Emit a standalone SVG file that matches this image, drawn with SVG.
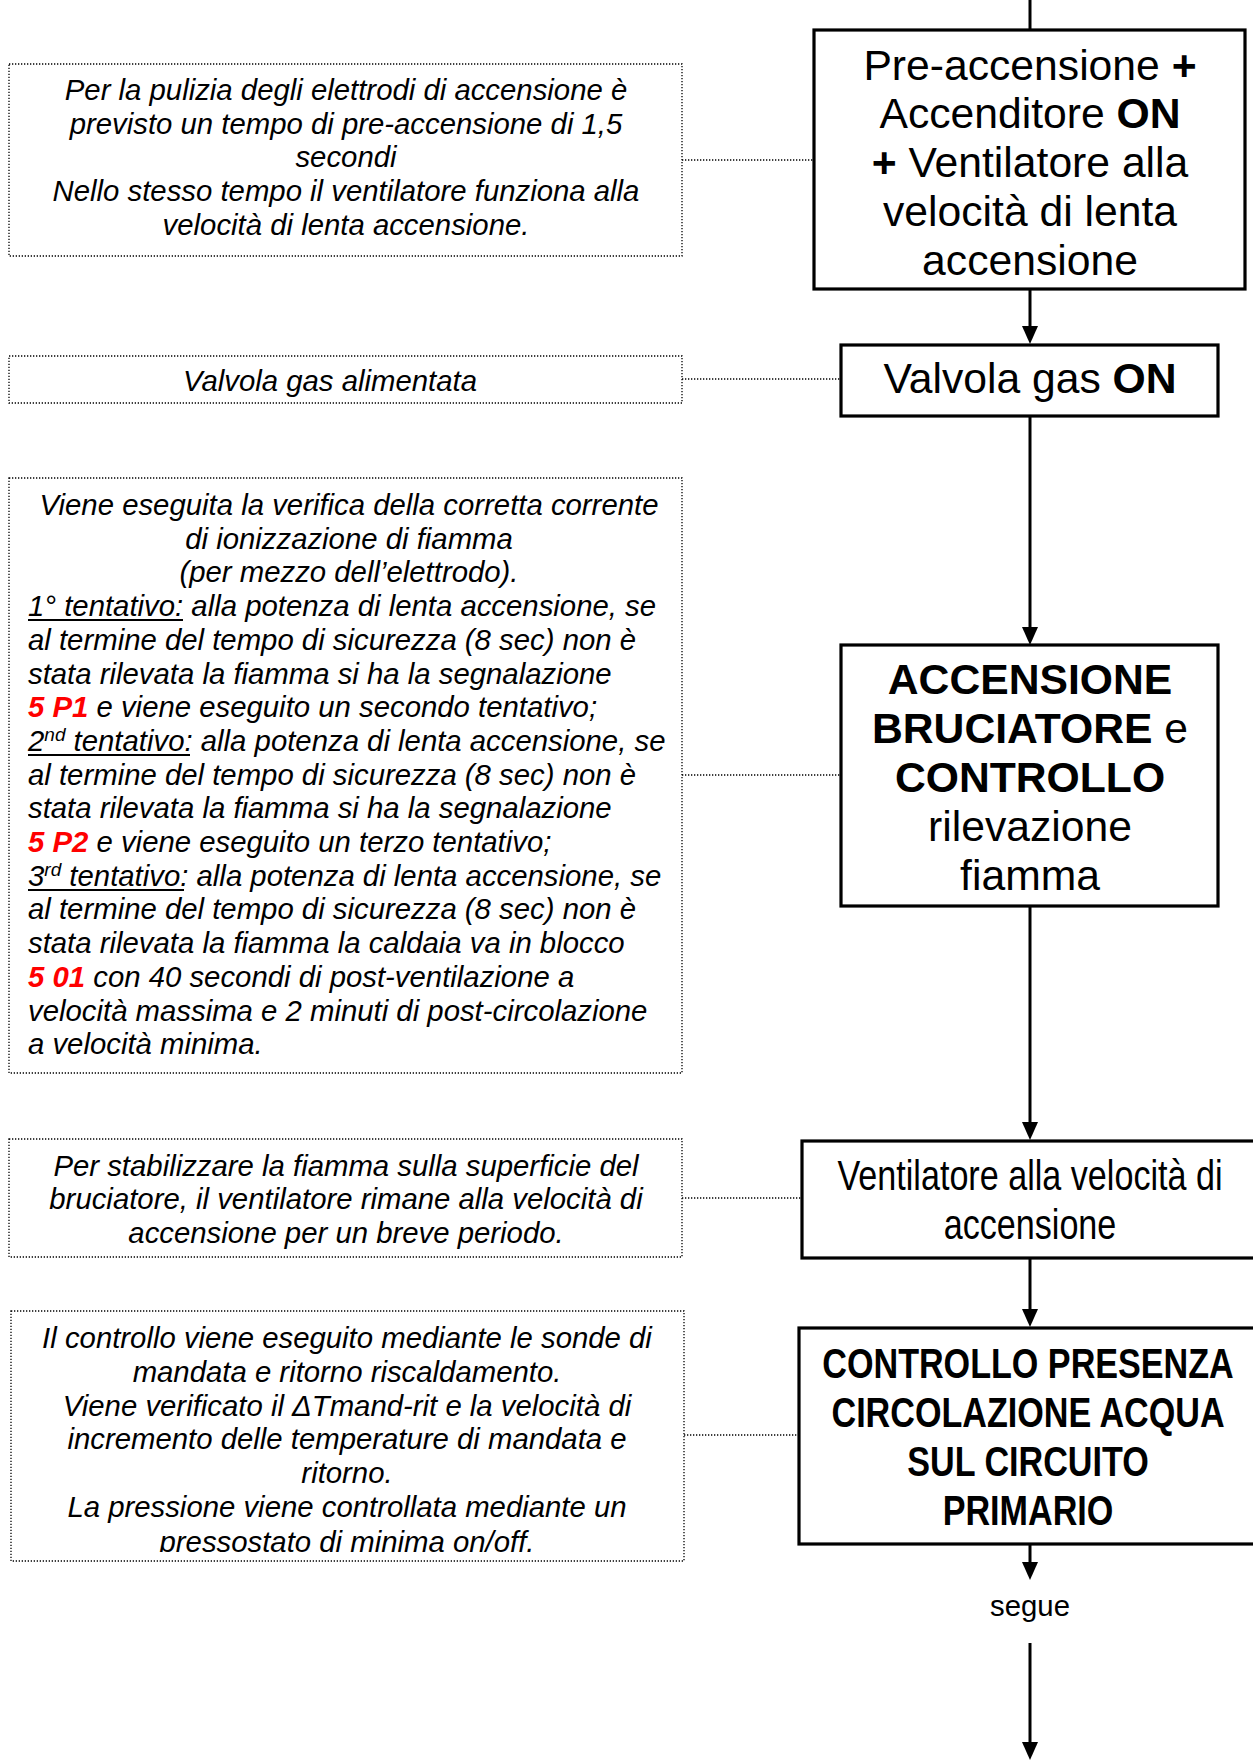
<svg xmlns="http://www.w3.org/2000/svg" width="1253" height="1760" viewBox="0 0 1253 1760">
  <style>
    .step { fill: #fff; stroke: #000; stroke-width: 3.2; }
    .note { fill: #fff; stroke: #000; stroke-width: 1.3; stroke-dasharray: 1.3 1.7; }
    .link { fill: none; stroke: #000; stroke-width: 3; }
    .dot { fill: none; stroke: #000; stroke-width: 1.3; stroke-dasharray: 1.3 1.7; }
    .big { font-family: "Liberation Sans", Arial, sans-serif; font-size: 42.67px; fill: #000; text-anchor: middle; }
    .b { font-weight: bold; }
    .txt { font-family: "Liberation Sans", Arial, sans-serif; font-size: 29.33px; font-style: italic; fill: #000; }
    .mid { text-anchor: middle; }
    .red { fill: #ff0000; font-weight: bold; }
    .sup { font-size: 19px; }
    .ul { stroke: #000; stroke-width: 2; }
    .lbl { font-family: "Liberation Sans", Arial, sans-serif; font-size: 29.33px; fill: #000; text-anchor: middle; }
  </style>
  <defs>
    <marker id="arrow" viewBox="0 0 18 16" refX="12" refY="8" markerWidth="18" markerHeight="16" markerUnits="userSpaceOnUse" orient="auto">
      <path d="M0,0 L18,8 L0,16 z" fill="#000"/>
    </marker>
    <clipPath id="clip-note5">
      <rect x="11" y="1311" width="673" height="241"/>
    </clipPath>
  </defs>
  <rect width="1253" height="1760" fill="#fff"/>

  <!-- connectors: solid flow arrows and dotted note leaders -->
  <g id="connectors">
    <line class="link" x1="1030" y1="0" x2="1030" y2="30"/>
    <line class="link" x1="1030" y1="289" x2="1030" y2="338" marker-end="url(#arrow)"/>
    <line class="link" x1="1030" y1="416" x2="1030" y2="639" marker-end="url(#arrow)"/>
    <line class="link" x1="1030" y1="906" x2="1030" y2="1134" marker-end="url(#arrow)"/>
    <line class="link" x1="1030" y1="1258" x2="1030" y2="1321" marker-end="url(#arrow)"/>
    <line class="link" x1="1030" y1="1544" x2="1030" y2="1574" marker-end="url(#arrow)"/>
    <line class="link" x1="1030" y1="1643" x2="1030" y2="1754" marker-end="url(#arrow)"/>

    <line class="dot" x1="682" y1="160" x2="814" y2="160"/>
    <line class="dot" x1="682" y1="379" x2="841" y2="379"/>
    <line class="dot" x1="682" y1="775" x2="841" y2="775"/>
    <line class="dot" x1="682" y1="1198" x2="802" y2="1198"/>
    <line class="dot" x1="684" y1="1435" x2="799" y2="1435"/>
  </g>

  <!-- flow steps -->
  <g id="step-preaccensione">
    <rect class="step" x="814" y="30" width="431" height="259"/>
    <text class="big" x="1030" y="80">Pre-accensione <tspan class="b">+</tspan></text>
    <text class="big" x="1030" y="128">Accenditore <tspan class="b">ON</tspan></text>
    <text class="big" x="1030" y="177"><tspan class="b">+</tspan> Ventilatore alla</text>
    <text class="big" x="1030" y="226">velocità di lenta</text>
    <text class="big" x="1030" y="275">accensione</text>
  </g>

  <g id="step-valvola">
    <rect class="step" x="841" y="345" width="377" height="71"/>
    <text class="big" x="1030" y="393">Valvola gas <tspan class="b">ON</tspan></text>
  </g>

  <g id="step-accensione">
    <rect class="step" x="841" y="645" width="377" height="261"/>
    <text class="big b" x="1030" y="694">ACCENSIONE</text>
    <text class="big" x="1030" y="743"><tspan class="b">BRUCIATORE</tspan> e</text>
    <text class="big b" x="1030" y="792">CONTROLLO</text>
    <text class="big" x="1030" y="841">rilevazione</text>
    <text class="big" x="1030" y="890">fiamma</text>
  </g>

  <g id="step-ventilatore">
    <rect class="step" x="802" y="1141" width="500" height="117"/>
    <text class="big" transform="translate(1030,1190) scale(0.8,1)">Ventilatore alla velocità di</text>
    <text class="big" transform="translate(1030,1239) scale(0.8,1)">accensione</text>
  </g>

  <g id="step-circolazione">
    <rect class="step" x="799" y="1328" width="500" height="216"/>
    <text class="big b" transform="translate(1028,1378) scale(0.8,1)">CONTROLLO PRESENZA</text>
    <text class="big b" transform="translate(1028,1427) scale(0.8,1)">CIRCOLAZIONE ACQUA</text>
    <text class="big b" transform="translate(1028,1476) scale(0.8,1)">SUL CIRCUITO</text>
    <text class="big b" transform="translate(1028,1525) scale(0.8,1)">PRIMARIO</text>
  </g>

  <g id="label-segue">
    <text class="lbl" x="1030" y="1616">segue</text>
  </g>

  <!-- explanatory notes -->
  <g id="note-preaccensione">
    <rect class="note" x="9" y="64" width="673" height="192"/>
    <text class="txt mid" x="346" y="100">Per la pulizia degli elettrodi di accensione è</text>
    <text class="txt mid" x="346" y="134">previsto un tempo di pre-accensione di 1,5</text>
    <text class="txt mid" x="346" y="167">secondi</text>
    <text class="txt mid" x="346" y="201">Nello stesso tempo il ventilatore funziona alla</text>
    <text class="txt mid" x="346" y="235">velocità di lenta accensione.</text>
  </g>

  <g id="note-valvola">
    <rect class="note" x="9" y="356" width="673" height="47"/>
    <text class="txt mid" x="330" y="391">Valvola gas alimentata</text>
  </g>

  <g id="note-accensione">
    <rect class="note" x="9" y="478" width="673" height="595"/>
    <text class="txt mid" x="349" y="515">Viene eseguita la verifica della corretta corrente</text>
    <text class="txt mid" x="349" y="549">di ionizzazione di fiamma</text>
    <text class="txt mid" x="349" y="582">(per mezzo dell’elettrodo).</text>
    <text class="txt" x="28" y="616">1° tentativo: alla potenza di lenta accensione, se</text>
    <line class="ul" x1="28" y1="620" x2="183" y2="620"/>
    <text class="txt" x="28" y="650">al termine del tempo di sicurezza (8 sec) non è</text>
    <text class="txt" x="28" y="684">stata rilevata la fiamma si ha la segnalazione</text>
    <text class="txt" x="28" y="717"><tspan class="red">5 P1</tspan> e viene eseguito un secondo tentativo;</text>
    <text class="txt" x="28" y="751">2<tspan class="sup" dy="-10">nd</tspan><tspan dy="10"> tentativo:</tspan> alla potenza di lenta accensione, se</text>
    <line class="ul" x1="28" y1="755" x2="190" y2="755"/>
    <text class="txt" x="28" y="785">al termine del tempo di sicurezza (8 sec) non è</text>
    <text class="txt" x="28" y="818">stata rilevata la fiamma si ha la segnalazione</text>
    <text class="txt" x="28" y="852"><tspan class="red">5 P2</tspan> e viene eseguito un terzo tentativo;</text>
    <text class="txt" x="28" y="886">3<tspan class="sup" dy="-10">rd</tspan><tspan dy="10"> tentativo:</tspan> alla potenza di lenta accensione, se</text>
    <line class="ul" x1="28" y1="890" x2="184" y2="890"/>
    <text class="txt" x="28" y="919">al termine del tempo di sicurezza (8 sec) non è</text>
    <text class="txt" x="28" y="953">stata rilevata la fiamma la caldaia va in blocco</text>
    <text class="txt" x="28" y="987"><tspan class="red">5 01</tspan> con 40 secondi di post-ventilazione a</text>
    <text class="txt" x="28" y="1021">velocità massima e 2 minuti di post-circolazione</text>
    <text class="txt" x="28" y="1054">a velocità minima.</text>
  </g>

  <g id="note-ventilatore">
    <rect class="note" x="9" y="1139" width="673" height="118"/>
    <text class="txt mid" x="346" y="1176">Per stabilizzare la fiamma sulla superficie del</text>
    <text class="txt mid" x="346" y="1209">bruciatore, il ventilatore rimane alla velocità di</text>
    <text class="txt mid" x="346" y="1243">accensione per un breve periodo.</text>
  </g>

  <g id="note-circolazione">
    <rect class="note" x="11" y="1311" width="673" height="250"/>
    <g clip-path="url(#clip-note5)">
      <text class="txt mid" x="347" y="1348">Il controllo viene eseguito mediante le sonde di</text>
      <text class="txt mid" x="347" y="1382">mandata e ritorno riscaldamento.</text>
      <text class="txt mid" x="347" y="1416">Viene verificato il ΔTmand-rit e la velocità di</text>
      <text class="txt mid" x="347" y="1449">incremento delle temperature di mandata e</text>
      <text class="txt mid" x="347" y="1483">ritorno.</text>
      <text class="txt mid" x="347" y="1517">La pressione viene controllata mediante un</text>
      <text class="txt mid" x="347" y="1552">pressostato di minima on/off.</text>
    </g>
  </g>
</svg>
